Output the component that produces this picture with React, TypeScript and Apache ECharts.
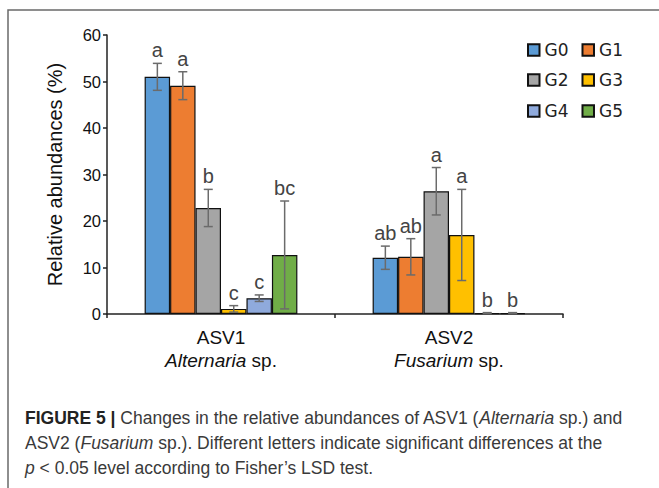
import React, { useEffect, useRef } from "react";
import * as echarts from "echarts";

const categories = ["ASV1", "ASV2"];
const categorySpecies = ["Alternaria", "Fusarium"];
const groups = ["G0", "G1", "G2", "G3", "G4", "G5"];
const colors = ["#5B9BD5", "#ED7D31", "#A5A5A5", "#FFC000", "#8FAADC", "#70AD47"];
// values[group][category]
const values = [
  [51.0, 12.1],
  [49.1, 12.3],
  [22.8, 26.4],
  [1.1, 17.0],
  [3.4, 0.2],
  [12.7, 0.2],
];
const errors = [
  [2.9, 2.5],
  [3.0, 3.9],
  [4.0, 5.1],
  [0.7, 9.8],
  [0.7, 0.1],
  [11.6, 0.1],
];
const letters = [
  ["a", "ab"],
  ["a", "ab"],
  ["b", "a"],
  ["c", "a"],
  ["c", "b"],
  ["bc", "b"],
];
const yTicks = [0, 60, 10];
const legendRows = [
  ["G0", "G1"],
  ["G2", "G3"],
  ["G4", "G5"],
];

const FONT = "'Liberation Sans', Arial, Helvetica, sans-serif";
const LEGEND_FONT = "'DejaVu Sans', 'Liberation Sans', sans-serif";

export default function App() {
  const ref = useRef<HTMLDivElement>(null);
  useEffect(() => {
    document.body.style.margin = "0";
    const chart = echarts.init(ref.current!, null, { renderer: "svg" });
    const barRatio = 0.67;
    const n = groups.length;
    const barSeries: any[] = groups.map((g, i) => ({
      name: g,
      type: "bar",
      data: values[i],
      barGap: "0%",
      barCategoryGap: "33%",
      itemStyle: { color: colors[i], borderColor: "#111", borderWidth: 1.2 },
    }));
    const errSeries: any[] = groups.map((g, i) => ({
      name: g + "-err",
      type: "custom",
      data: categories.map((c, j) => [j, values[i][j], errors[i][j]]),
      z: 5,
      renderItem: (params: any, api: any) => {
        const x = api.value(0);
        const v = api.value(1);
        const e = api.value(2);
        const catW = api.size([1, 0])[0];
        const bw = (catW * barRatio) / n;
        const cx = api.coord([x, 0])[0] + (i - (n - 1) / 2) * bw;
        const top = api.coord([x, v + e])[1];
        const bot = api.coord([x, Math.max(v - e, 0)])[1];
        const st = { stroke: "#6b6b6b", lineWidth: 1.5 };
        return {
          type: "group",
          children: [
            { type: "line", shape: { x1: cx, y1: top, x2: cx, y2: bot }, style: st },
            { type: "line", shape: { x1: cx - 4.5, y1: top, x2: cx + 4.5, y2: top }, style: st },
            { type: "line", shape: { x1: cx - 4.5, y1: bot, x2: cx + 4.5, y2: bot }, style: st },
            {
              type: "text",
              style: {
                x: cx,
                y: top - 3,
                text: letters[i][x],
                align: "center",
                verticalAlign: "bottom",
                fontSize: 20,
                fontFamily: FONT,
                fill: "#444",
              },
            },
          ],
        };
      },
    }));

    const legends = legendRows.map((row, r) => ({
      data: row,
      left: 522,
      top: [36.5, 66.5, 97.5][r],
      orient: "horizontal",
      itemWidth: 11.5,
      itemHeight: 11.5,
      itemGap: 13,
      icon: "rect",
      textStyle: { fontSize: 17, lineHeight: 17, color: "#222", fontFamily: LEGEND_FONT },
    }));

    const capStyle = {
      fontSize: 17.5,
      fontFamily: FONT,
      fill: "#3a3a3a",
      rich: {
        b: { fontWeight: "bold", fontSize: 17.5, fill: "#222", fontFamily: FONT },
        i: { fontStyle: "italic", fontSize: 17.5, fontFamily: FONT },
      },
    };

    chart.setOption({
      animation: false,
      textStyle: { fontFamily: FONT },
      grid: { left: 107, right: 96, top: 35, bottom: 174, containLabel: false },
      legend: legends,
      xAxis: {
        type: "category",
        data: categories,
        axisLine: { lineStyle: { color: "#222", width: 1.5 } },
        axisTick: { show: true, length: 4, lineStyle: { color: "#222", width: 1.5 } },
        axisLabel: {
          margin: 11.5,
          fontSize: 19,
          color: "#111",
          lineHeight: 23,
          formatter: (v: string, idx: number) => `${v}\n{i|${categorySpecies[idx]}} sp.`,
          rich: { i: { fontStyle: "italic", fontSize: 19, color: "#111", lineHeight: 23 } },
        },
      },
      yAxis: {
        type: "value",
        min: yTicks[0],
        max: yTicks[1],
        interval: yTicks[2],
        name: "Relative abundances (%)",
        nameLocation: "middle",
        nameGap: 42,
        nameTextStyle: { fontSize: 20, color: "#111" },
        axisLine: { show: true, lineStyle: { color: "#222", width: 1.5 } },
        axisTick: { show: true, length: 4, lineStyle: { color: "#222", width: 1.5 } },
        axisLabel: {
          fontSize: 16.5,
          color: "#111",
          margin: 6,
          formatter: (v: number) => `{t|${v}}`,
          rich: { t: { fontSize: 16.5, color: "#111", fontFamily: FONT } },
        },
        splitLine: { show: false },
      },
      graphic: [
        {
          type: "rect",
          shape: { x: 8, y: 10, width: 700, height: 600 },
          style: { fill: "none", stroke: "#6a6a6a", lineWidth: 1.5 },
          silent: true,
        },
        {
          type: "text",
          left: 25,
          top: 409,
          style: {
            ...capStyle,
            text: "{b|FIGURE 5 |} Changes in the relative abundances of ASV1 ({i|Alternaria} sp.) and",
          },
        },
        {
          type: "text",
          left: 25,
          top: 434,
          style: {
            ...capStyle,
            text: "ASV2 ({i|Fusarium} sp.). Different letters indicate significant differences at the",
          },
        },
        {
          type: "text",
          left: 25,
          top: 459,
          style: {
            ...capStyle,
            text: "{i|p} < 0.05 level according to Fisher\u2019s LSD test.",
          },
        },
      ],
      series: [...barSeries, ...errSeries],
    });
    return () => chart.dispose();
  }, []);
  return <div ref={ref} style={{ width: 659, height: 488 }} />;
}
